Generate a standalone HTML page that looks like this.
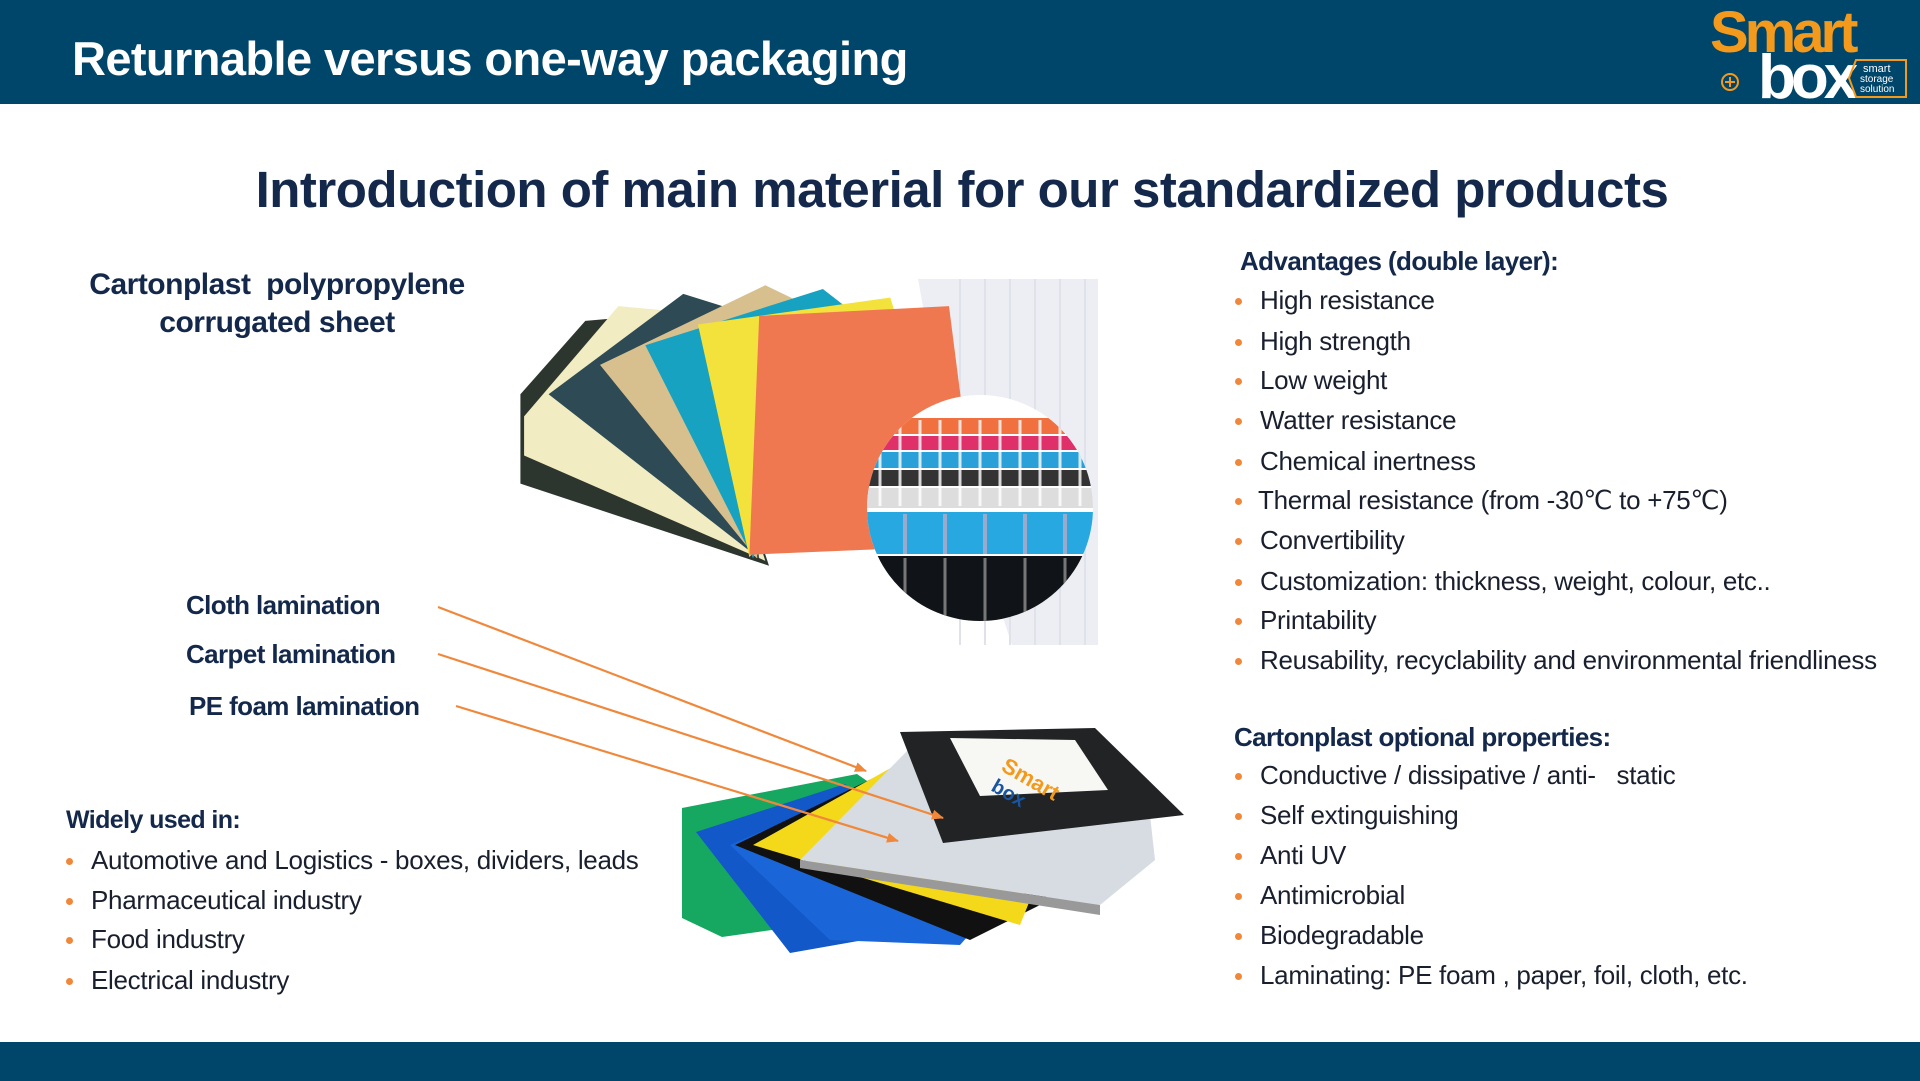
<!DOCTYPE html>
<html><head><meta charset="utf-8"><style>
*{margin:0;padding:0;box-sizing:border-box}
body{width:1920px;height:1081px;position:relative;background:#fff;overflow:hidden;font-family:"Liberation Sans",sans-serif;color:#13284a}
.abs{position:absolute;white-space:nowrap}
.hdr{left:0;top:0;width:1920px;height:104px;background:#00456a}
.ftr{left:0;top:1042px;width:1920px;height:39px;background:#00456a}
.t1{left:72px;top:31px;font-size:47px;font-weight:bold;color:#fff;letter-spacing:-0.6px}
.t2{left:0;width:1920px;text-align:center;top:160px;font-size:51px;font-weight:bold;letter-spacing:-0.5px;padding-left:4px}
.b{font-weight:bold;font-size:26px;letter-spacing:-0.6px}
.it{font-size:26px;letter-spacing:-0.3px;color:#1a1f2e}
.dot{position:absolute;width:7px;height:7px;border-radius:50%;background:#f0883c}
</style></head><body>
<div class="abs hdr"></div>
<div class="abs ftr"></div>
<div class="abs t1">Returnable versus one-way packaging</div>

<!-- logo -->
<svg class="abs" style="left:1700px;top:0px" width="220" height="104">
<text x="10" y="52" font-family="Liberation Sans" font-weight="bold" font-size="58" fill="#f39a1c" letter-spacing="-4">Smart</text>
<text x="58" y="98" font-family="Liberation Sans" font-weight="bold" font-size="62" fill="#fff" letter-spacing="-5">box</text>
<circle cx="30" cy="82" r="8" fill="none" stroke="#f39a1c" stroke-width="2"/>
<path d="M25 82h10M30 77v10" stroke="#f39a1c" stroke-width="2"/>
<path d="M156 60 L206 60 L206 97 L156 97 L149 78 Z" fill="none" stroke="#f39a1c" stroke-width="2"/>
<text x="163" y="72" font-family="Liberation Sans" font-size="11" fill="#fff">smart</text>
<text x="160" y="82" font-family="Liberation Sans" font-size="10" fill="#fff">storage</text>
<text x="160" y="92" font-family="Liberation Sans" font-size="10" fill="#fff">solution</text>
</svg>

<div class="abs t2">Introduction of main material for our standardized products</div>

<div class="abs b" style="left:55px;top:266px;width:444px;text-align:center;line-height:38px;white-space:normal;font-size:30px;letter-spacing:-0.5px">Cartonplast&nbsp; polypropylene<br>corrugated sheet</div>

<svg class="abs" style="left:0;top:0" width="1920" height="1081">
<defs>
<clipPath id="cc"><circle cx="980" cy="508" r="113"/></clipPath>
<marker id="ah" markerWidth="12" markerHeight="10" refX="11" refY="5" orient="auto" markerUnits="userSpaceOnUse">
<path d="M0 0 L12 5 L0 10 Z" fill="#f0883c"/></marker>
</defs>
<!-- light background -->
<path d="M918 279 L1098 279 L1098 645 L1012 645 Q950 460 918 279Z" fill="#eceef3"/>
<g stroke="#dfe2ea" stroke-width="2">
<path d="M960 279v366M985 279v366M1010 279v366M1035 279v366M1060 279v366M1085 279v366"/>
</g>
<!-- fan sheets (display coords scaled) -->
<g transform="scale(1.2245)">
<polygon points="425,322 478,262 560,255 628,462 425,395" fill="#2c362e"/>
<polygon points="428,340 505,250 560,255 625,458 428,372" fill="#f2ecc2"/>
<polygon points="448,322 558,240 590,250 620,456" fill="#2d4a55"/>
<polygon points="490,298 625,233 650,245 618,456" fill="#d8c08e"/>
<polygon points="527,282 672,236 690,250 615,456" fill="#17a2c2"/>
<polygon points="570,265 727,243 745,300 612,455" fill="#f4e23c"/>
<polygon points="620,258 775,250 800,445 612,453" fill="#ef7850"/>
</g>
<!-- circle -->
<g clip-path="url(#cc)">
<rect x="860" y="390" width="240" height="240" fill="#fff"/>
<rect x="860" y="418" width="240" height="16" fill="#f07040"/>
<rect x="860" y="436" width="240" height="14" fill="#e0306a"/>
<rect x="860" y="452" width="240" height="16" fill="#2aa0d8"/>
<rect x="860" y="470" width="240" height="16" fill="#333"/>
<rect x="860" y="488" width="240" height="20" fill="#ddd"/>
<rect x="860" y="512" width="240" height="42" fill="#28a8e0"/>
<rect x="860" y="556" width="240" height="80" fill="#101418"/>
<g stroke="#fff" stroke-width="3" opacity="0.8">
<path d="M880 420v86M900 420v86M920 420v86M940 420v86M960 420v86M980 420v86M1000 420v86M1020 420v86M1040 420v86M1060 420v86M1080 420v86"/>
</g>
<g stroke="#9ac" stroke-width="4"><path d="M905 514v40M945 514v40M985 514v40M1025 514v40M1065 514v40"/></g>
<g stroke="#777" stroke-width="3"><path d="M905 558v70M945 558v70M985 558v70M1025 558v70M1065 558v70"/></g>
</g>
<!-- bottom stack -->
<polygon points="682,808 857,774 1029,894 722,937 682,918" fill="#16a860"/>
<polygon points="696,832 845,784 1022,912 790,953" fill="#1358c8"/>
<polygon points="730,845 880,780 1000,900 960,945 830,940" fill="#1a66d8"/>
<polygon points="735,845 890,770 1050,900 970,940" fill="#111"/>
<polygon points="753,845 905,760 1030,900 1020,925" fill="#f4d81a"/>
<polygon points="800,860 910,748 1150,815 1155,860 1100,905" fill="#d7dce2"/>
<polygon points="800,860 1100,905 1100,915 800,868" fill="#999"/>
<polygon points="900,732 1095,728 1184,815 943,843" fill="#222325"/>
<polygon points="950,738 1075,740 1108,790 980,796" fill="#f7f7f4"/>
<text x="1000" y="770" font-family="Liberation Sans" font-weight="bold" font-size="22" fill="#f39a1c" transform="rotate(30 1000 770)">Smart</text>
<text x="990" y="790" font-family="Liberation Sans" font-weight="bold" font-size="20" fill="#1a55a0" transform="rotate(30 990 790)">box</text>
<!-- arrows -->
<g stroke="#f0883c" stroke-width="2.2" fill="none" marker-end="url(#ah)">
<line x1="438" y1="607" x2="866" y2="771"/>
<line x1="438" y1="654" x2="943" y2="818"/>
<line x1="456" y1="706" x2="898" y2="841"/>
</g>
</svg>

<div class="abs b" style="left:186px;top:590px">Cloth lamination</div>
<div class="abs b" style="left:186px;top:639px">Carpet lamination</div>
<div class="abs b" style="left:189px;top:691px">PE foam lamination</div>

<div class="abs b" style="left:66px;top:806px;font-size:25px">Widely used in:</div>
<div class="dot" style="left:66px;top:858px"></div><div class="abs it" style="left:91px;top:845px">Automotive and Logistics - boxes, dividers, leads</div>
<div class="dot" style="left:66px;top:898px"></div><div class="abs it" style="left:91px;top:885px">Pharmaceutical industry</div>
<div class="dot" style="left:66px;top:937px"></div><div class="abs it" style="left:91px;top:924px">Food industry</div>
<div class="dot" style="left:66px;top:978px"></div><div class="abs it" style="left:91px;top:965px">Electrical industry</div>

<div class="abs b" style="left:1240px;top:246px">Advantages (double layer):</div>
<div class="dot" style="left:1235px;top:298px"></div><div class="abs it" style="left:1260px;top:285px">High resistance</div>
<div class="dot" style="left:1235px;top:339px"></div><div class="abs it" style="left:1260px;top:326px">High strength</div>
<div class="dot" style="left:1235px;top:378px"></div><div class="abs it" style="left:1260px;top:365px">Low weight</div>
<div class="dot" style="left:1235px;top:418px"></div><div class="abs it" style="left:1260px;top:405px">Watter resistance</div>
<div class="dot" style="left:1235px;top:459px"></div><div class="abs it" style="left:1260px;top:446px">Chemical inertness</div>
<div class="dot" style="left:1235px;top:498px"></div><div class="abs it" style="left:1258px;top:485px">Thermal resistance (from -30℃ to +75℃)</div>
<div class="dot" style="left:1235px;top:538px"></div><div class="abs it" style="left:1260px;top:525px">Convertibility</div>
<div class="dot" style="left:1235px;top:579px"></div><div class="abs it" style="left:1260px;top:566px">Customization: thickness, weight, colour, etc..</div>
<div class="dot" style="left:1235px;top:618px"></div><div class="abs it" style="left:1260px;top:605px">Printability</div>
<div class="dot" style="left:1235px;top:658px"></div><div class="abs it" style="left:1260px;top:645px">Reusability, recyclability and environmental friendliness</div>

<div class="abs b" style="left:1234px;top:722px">Cartonplast optional properties:</div>
<div class="dot" style="left:1235px;top:773px"></div><div class="abs it" style="left:1260px;top:760px">Conductive / dissipative / anti-&nbsp;&nbsp; static</div>
<div class="dot" style="left:1235px;top:813px"></div><div class="abs it" style="left:1260px;top:800px">Self extinguishing</div>
<div class="dot" style="left:1235px;top:853px"></div><div class="abs it" style="left:1260px;top:840px">Anti UV</div>
<div class="dot" style="left:1235px;top:893px"></div><div class="abs it" style="left:1260px;top:880px">Antimicrobial</div>
<div class="dot" style="left:1235px;top:933px"></div><div class="abs it" style="left:1260px;top:920px">Biodegradable</div>
<div class="dot" style="left:1235px;top:973px"></div><div class="abs it" style="left:1260px;top:960px">Laminating: PE foam , paper, foil, cloth, etc.</div>
</body></html>
